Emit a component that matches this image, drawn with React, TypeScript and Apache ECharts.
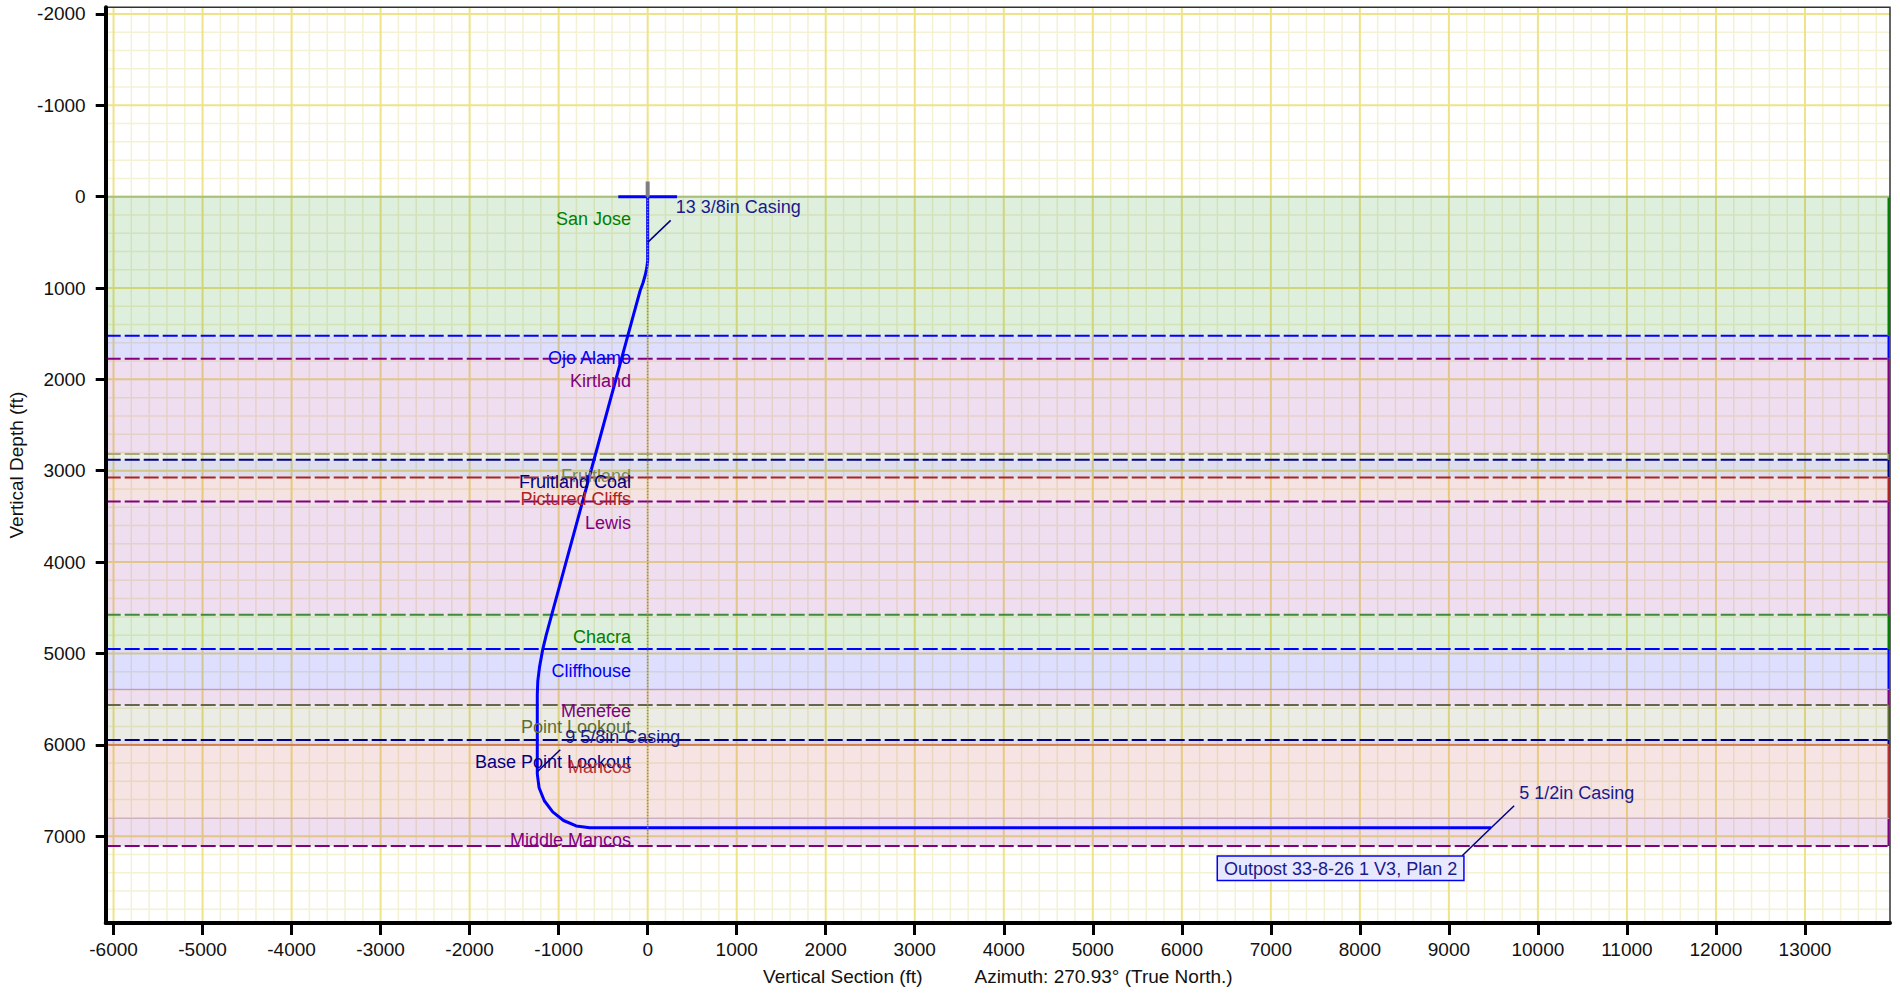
import React, { useEffect, useRef } from 'react';
import * as echarts from 'echarts';

// ---------------- data ----------------
const xTickValues = [-6000, -5000, -4000, -3000, -2000, -1000, 0, 1000, 2000, 3000, 4000, 5000, 6000, 7000, 8000, 9000, 10000, 11000, 12000, 13000];
const yTickValues = [-2000, -1000, 0, 1000, 2000, 3000, 4000, 5000, 6000, 7000];

const formationNames = ['San Jose', 'Ojo Alamo', 'Kirtland', 'Fruitland', 'Fruitland Coal', 'Pictured Cliffs', 'Lewis', 'Chacra', 'Cliffhouse', 'Menefee', 'Point Lookout', 'Base Point Lookout', 'Mancos', 'Middle Mancos'];
const formationTopTVD = [0, 1522, 1774, 2818, 2881, 3074, 3337, 4578, 4951, 5393, 5564, 5947, 6002, 6805];
const formationBaseTVD = 7108;

// well path: vertical section (ft) and true vertical depth (ft)
const wellVS = [0, 0, -10, -28, -53, -85, -164, -603, -746, -910, -1073, -1140, -1180, -1215, -1234, -1240, -1240, -1220, -1161, -1067, -945, -803, -650, 9475];
const wellTVD = [0, 700, 780, 860, 945, 1030, 1311, 2880, 3391, 3976, 4560, 4800, 4962, 5150, 5300, 5450, 6318, 6471, 6613, 6735, 6829, 6888, 6908, 6908];

const casingNames = ['13 3/8in Casing', '9 5/8in Casing', '5 1/2in Casing'];
const casingVS = [0, -1240, 9475];
const casingTVD = [500, 6295, 6908];

const wellName = 'Outpost 33-8-26 1 V3, Plan 2';
const sectionRefVS = [0, 0];
const sectionRefTVD = [0, 7080];
const surfaceMarkVS = [-330, 330];
const surfaceMarkTVD = [0, 0];
const rigMarkVS = [0, 0];
const rigMarkTVD = [-165, 0];

const xAxisTitle = 'Vertical Section (ft)';
const azimuthText = 'Azimuth: 270.93° (True North.)';
const yAxisTitle = 'Vertical Depth (ft)';

// ---------------- layout / style ----------------
const X_MIN = -6088;
const X_MAX = 13955;
const Y_MIN = -2073;
const Y_MAX = 7951;
const GRID_STEP = 200;
const GRID_MAJOR = 1000;
const LABEL_VS = -186;
const LABEL_TVD_OFFSET = 240;

const FONT = '"Liberation Sans", Arial, Helvetica, sans-serif';

const FORMATION_COLORS = ['#008000', '#0000ff', '#800080', '#7b8b4b', '#000080', '#b22222', '#800080', '#008000', '#0000ff', '#800080', '#5c6e34', '#000080', '#b83030', '#800080'];
const DASH = [15, 4];
const TOP_LINE_STYLES: any[] = [
  { stroke: '#a8c07a', lineWidth: 2, lineDash: null },
  { stroke: '#0000ff', lineWidth: 2, lineDash: DASH },
  { stroke: '#800080', lineWidth: 2, lineDash: DASH },
  { stroke: '#a3ab7a', lineWidth: 2, lineDash: DASH },
  { stroke: '#000080', lineWidth: 2, lineDash: DASH },
  { stroke: '#b22222', lineWidth: 2, lineDash: DASH },
  { stroke: '#800080', lineWidth: 2, lineDash: DASH },
  { stroke: '#3d8b3d', lineWidth: 2, lineDash: DASH },
  { stroke: '#0000ff', lineWidth: 2, lineDash: DASH },
  { stroke: '#b28ccf', lineWidth: 1, lineDash: null },
  { stroke: '#66664a', lineWidth: 2, lineDash: DASH },
  { stroke: '#000080', lineWidth: 2, lineDash: DASH },
  { stroke: '#d0683c', lineWidth: 1.5, lineDash: null },
  { stroke: '#c9a8b8', lineWidth: 1, lineDash: null },
];
const BASE_LINE_STYLE = { stroke: '#800080', lineWidth: 2, lineDash: DASH };

function buildGridData() {
  const minor: number[][] = [];
  const major: number[][] = [];
  for (let v = Math.ceil(X_MIN / GRID_STEP) * GRID_STEP; v <= X_MAX; v += GRID_STEP) {
    (v % GRID_MAJOR === 0 ? major : minor).push([v, 0, v % GRID_MAJOR === 0 ? 1 : 0]);
  }
  for (let v = Math.ceil(Y_MIN / GRID_STEP) * GRID_STEP; v <= Y_MAX; v += GRID_STEP) {
    (v % GRID_MAJOR === 0 ? major : minor).push([v, 1, v % GRID_MAJOR === 0 ? 1 : 0]);
  }
  return minor.concat(major);
}

export default function App() {
  const ref = useRef<HTMLDivElement>(null);

  useEffect(() => {
    if (!ref.current) return;
    const chart = echarts.init(ref.current, null, { renderer: 'svg' });

    const zoneData = formationTopTVD.map((t, i) => [
      t,
      i < formationTopTVD.length - 1 ? formationTopTVD[i + 1] : formationBaseTVD,
      i,
    ]);
    const lineData = formationTopTVD.map((t, i) => [t, i]).concat([[formationBaseTVD, -1]]);
    const labelData = formationTopTVD.map((t, i) => [LABEL_VS, t + LABEL_TVD_OFFSET, i]);
    const casingData = casingNames.map((_, i) => [casingVS[i], casingTVD[i], i]);

    const option: any = {
      animation: false,
      backgroundColor: '#ffffff',
      grid: {
        left: 105.7,
        top: 7.3,
        right: 10,
        bottom: 71,
        show: true,
        borderColor: '#333333',
        borderWidth: 1.5,
        backgroundColor: 'transparent',
        containLabel: false,
        outerBoundsMode: 'none',
        z: 10,
      },
      xAxis: {
        type: 'value',
        min: X_MIN,
        max: X_MAX,
        z: 10,
        name: `{a|${xAxisTitle}}{b|${azimuthText}}`,
        nameLocation: 'middle',
        nameGap: 44,
        nameTextStyle: {
          rich: {
            a: { fontSize: 19, color: '#111', fontFamily: FONT },
            b: { fontSize: 19, color: '#111', fontFamily: FONT, padding: [0, 0, 0, 52] },
          },
        },
        axisLine: { show: true, onZero: false, lineStyle: { color: '#000', width: 4 } },
        axisTick: { show: true, customValues: xTickValues, length: 12, lineStyle: { color: '#000', width: 3 } },
        axisLabel: {
          customValues: xTickValues,
          formatter: (v: number) => String(v),
          fontSize: 19,
          color: '#111',
          fontFamily: FONT,
          margin: 17,
        },
        splitLine: { show: false },
        minorSplitLine: { show: false },
      },
      yAxis: {
        type: 'value',
        inverse: true,
        min: Y_MIN,
        max: Y_MAX,
        z: 10,
        name: yAxisTitle,
        nameLocation: 'middle',
        nameGap: 73,
        nameRotate: 90,
        nameTextStyle: { fontSize: 19, color: '#111', fontFamily: FONT },
        axisLine: { show: true, onZero: false, lineStyle: { color: '#000', width: 4 } },
        axisTick: { show: true, customValues: yTickValues, length: 10, lineStyle: { color: '#000', width: 3 } },
        axisLabel: {
          customValues: yTickValues,
          formatter: (v: number) => String(v),
          fontSize: 19,
          color: '#111',
          fontFamily: FONT,
          margin: 20,
        },
        splitLine: { show: false },
        minorSplitLine: { show: false },
      },
      series: [
        {
          type: 'custom',
          name: 'grid',
          silent: true,
          z: 1,
          data: buildGridData(),
          renderItem: (params: any, api: any) => {
            const v = api.value(0);
            const dir = api.value(1);
            const major = api.value(2) === 1;
            const a = dir === 0 ? api.coord([v, Y_MIN]) : api.coord([X_MIN, v]);
            const b = dir === 0 ? api.coord([v, Y_MAX]) : api.coord([X_MAX, v]);
            return {
              type: 'line',
              shape: { x1: a[0], y1: a[1], x2: b[0], y2: b[1] },
              style: { stroke: major ? '#efe38a' : '#f4f1d4', lineWidth: major ? 2 : 1.5 },
            };
          },
        },
        {
          type: 'custom',
          name: 'zones',
          silent: true,
          z: 2,
          data: zoneData,
          renderItem: (params: any, api: any) => {
            const top = api.value(0);
            const bot = api.value(1);
            const i = api.value(2);
            const p1 = api.coord([X_MIN, top]);
            const p2 = api.coord([X_MAX, bot]);
            const c = FORMATION_COLORS[i];
            return {
              type: 'group',
              children: [
                {
                  type: 'rect',
                  shape: { x: p1[0], y: p1[1], width: p2[0] - p1[0], height: p2[1] - p1[1] },
                  style: { fill: c, opacity: 0.13 },
                },
                {
                  type: 'line',
                  shape: { x1: p2[0] - 1.5, y1: p1[1], x2: p2[0] - 1.5, y2: p2[1] },
                  style: { stroke: c, lineWidth: 2 },
                },
              ],
            };
          },
        },
        {
          type: 'custom',
          name: 'formation tops',
          silent: true,
          z: 3,
          data: lineData,
          renderItem: (params: any, api: any) => {
            const d = api.value(0);
            const i = api.value(1);
            const a = api.coord([X_MIN, d]);
            const b = api.coord([X_MAX, d]);
            const st = i < 0 ? BASE_LINE_STYLE : TOP_LINE_STYLES[i];
            return {
              type: 'line',
              shape: { x1: a[0], y1: a[1], x2: b[0], y2: b[1] },
              style: { stroke: st.stroke, lineWidth: st.lineWidth, lineDash: st.lineDash || undefined },
            };
          },
        },
        {
          type: 'line',
          name: 'well path',
          silent: true,
          z: 5,
          data: wellVS.map((x, i) => [x, wellTVD[i]]),
          showSymbol: false,
          symbol: 'none',
          lineStyle: { color: '#0000ff', width: 3 },
        },
        {
          type: 'line',
          name: 'surface',
          silent: true,
          z: 5,
          data: surfaceMarkVS.map((x, i) => [x, surfaceMarkTVD[i]]),
          showSymbol: false,
          symbol: 'none',
          lineStyle: { color: '#0000ff', width: 3 },
        },
        {
          type: 'line',
          name: 'rig',
          silent: true,
          z: 5,
          data: rigMarkVS.map((x, i) => [x, rigMarkTVD[i]]),
          showSymbol: false,
          symbol: 'none',
          lineStyle: { color: '#808080', width: 4 },
        },
        {
          type: 'line',
          name: 'section reference',
          silent: true,
          z: 6,
          data: sectionRefVS.map((x, i) => [x, sectionRefTVD[i]]),
          showSymbol: false,
          symbol: 'none',
          lineStyle: { color: '#8a8a8a', width: 1.5, type: 'dotted' },
        },
        {
          type: 'custom',
          name: 'formation labels',
          silent: true,
          z: 7,
          data: labelData,
          renderItem: (params: any, api: any) => {
            const i = api.value(2);
            const p = api.coord([api.value(0), api.value(1)]);
            return {
              type: 'text',
              x: p[0],
              y: p[1],
              style: {
                legacy: false,
                text: formationNames[i],
                fill: FORMATION_COLORS[i],
                font: `18px ${FONT}`,
                align: 'right',
                verticalAlign: 'middle',
              },
            };
          },
        },
        {
          type: 'custom',
          name: 'casings',
          silent: true,
          z: 8,
          data: casingData,
          renderItem: (params: any, api: any) => {
            const i = api.value(2);
            const p = api.coord([api.value(0), api.value(1)]);
            const children: any[] = [
              {
                type: 'line',
                shape: { x1: p[0], y1: p[1], x2: p[0] + 23, y2: p[1] - 22 },
                style: { stroke: '#000080', lineWidth: 1.5 },
              },
              {
                type: 'text',
                x: p[0] + 28,
                y: p[1] - 35,
                style: {
                  legacy: false,
                  text: casingNames[i],
                  fill: '#1a1a8c',
                  font: `18px ${FONT}`,
                  align: 'left',
                  verticalAlign: 'middle',
                },
              },
            ];
            if (i === casingNames.length - 1) {
              children.push({
                type: 'line',
                shape: { x1: p[0], y1: p[1], x2: p[0] - 29, y2: p[1] + 28 },
                style: { stroke: '#000080', lineWidth: 1.5 },
              });
              children.push({
                type: 'text',
                x: p[0] - 28,
                y: p[1] + 29,
                style: {
                  legacy: false,
                  text: wellName,
                  fill: '#1a1a8c',
                  font: `18px ${FONT}`,
                  align: 'right',
                  verticalAlign: 'top',
                  backgroundColor: '#e8e8ff',
                  borderColor: '#0000ff',
                  borderWidth: 1.5,
                  padding: [3, 6, 2, 6],
                },
              });
            }
            return { type: 'group', children };
          },
        },
      ],
    };

    chart.setOption(option);
    return () => {
      chart.dispose();
    };
  }, []);

  return (
    <div
      ref={ref}
      style={{ position: 'absolute', left: 0, top: 0, width: 1900, height: 994 }}
    />
  );
}
